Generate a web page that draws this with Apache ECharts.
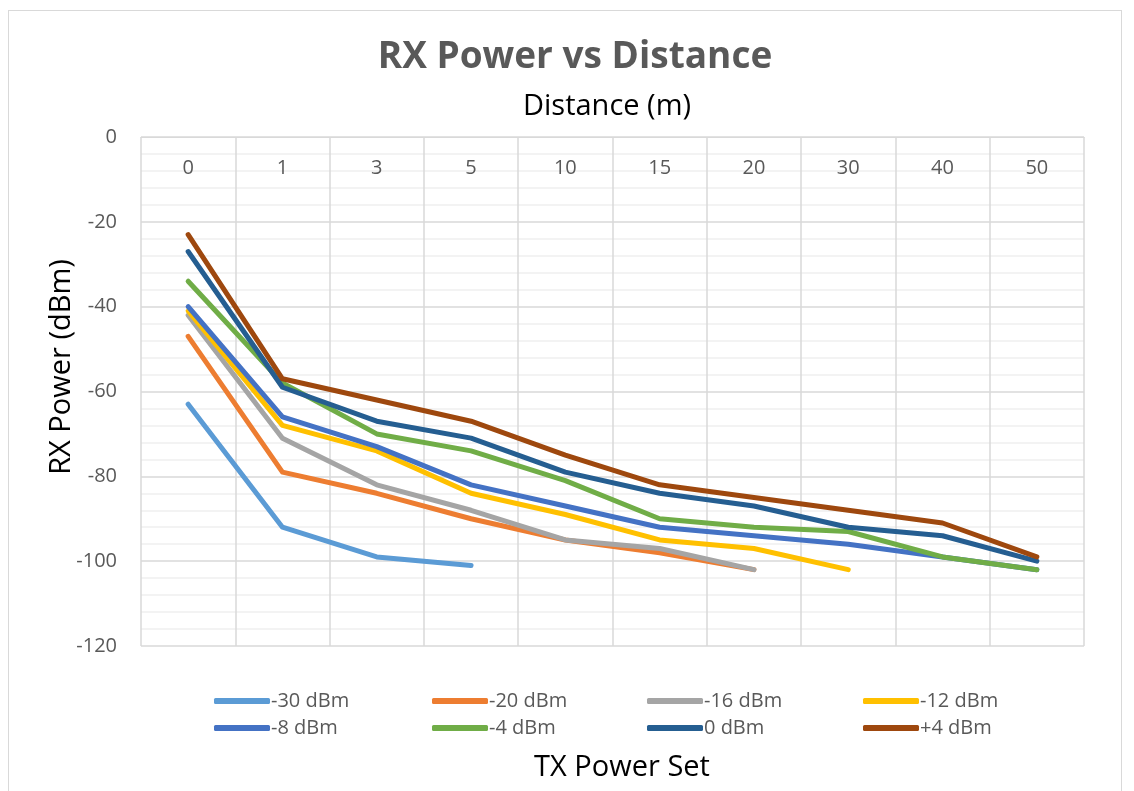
<!DOCTYPE html>
<html>
<head>
<meta charset="utf-8">
<script src="https://cdn.jsdelivr.net/npm/echarts@6/dist/echarts.min.js"></script>
<style>
html,body{margin:0;padding:0;background:#fff;}
#frame{position:absolute;left:8px;top:10px;width:1114px;height:800px;border:1px solid #d9d9d9;box-sizing:border-box;}
#chart{position:absolute;left:0;top:0;width:1134px;height:791px;}
</style>
</head>
<body>
<div id="frame"></div>
<div id="chart"></div>
<script>
const categories = ['0','1','3','5','10','15','20','30','40','50'];
const seriesNames = ['-30 dBm','-20 dBm','-16 dBm','-12 dBm','-8 dBm','-4 dBm','0 dBm','+4 dBm'];
const s_m30 = [-63,-92,-99,-101,null,null,null,null,null,null];
const s_m20 = [-47,-79,-84,-90,-95,-98,-102,null,null,null];
const s_m16 = [-42,-71,-82,-88,-95,-97,-102,null,null,null];
const s_m12 = [-41,-68,-74,-84,-89,-95,-97,-102,null,null];
const s_m8  = [-40,-66,-73,-82,-87,-92,-94,-96,-99,-102];
const s_m4  = [-34,-58,-70,-74,-81,-90,-92,-93,-99,-102];
const s_0   = [-27,-59,-67,-71,-79,-84,-87,-92,-94,-100];
const s_p4  = [-23,-57,-62,-67,-75,-82,-85,-88,-91,-99];
const yTicks = [0,-20,-40,-60,-80,-100,-120];

const values = [s_m30,s_m20,s_m16,s_m12,s_m8,s_m4,s_0,s_p4];
const colors = ['#5B9BD5','#ED7D31','#A5A5A5','#FFC000','#4472C4','#70AD47','#255E91','#9E480E'];

const chart = echarts.init(document.getElementById('chart'));
const legendPos = [
  [209,686],[427,686],[642,686],[858,686],
  [209,713],[427,713],[642,713],[858,713]
];
const legends = seriesNames.map((n,i)=>({
  data:[n], left:legendPos[i][0], top:legendPos[i][1],
  itemWidth:56, itemHeight:6, itemGap:0, icon:'roundRect',
  textStyle:{fontFamily:'Open Sans', fontSize:20, color:'#595959', padding:[0,0,0,-4]},
  selectedMode:false
}));
chart.setOption({
  animation:false,
  color:colors,
  grid:{left:141, top:137, right:50, bottom:145},
  legend:legends,
  graphic:[
    {type:'text', x:575, y:57, style:{text:'RX Power vs Distance', font:'bold 37px "Open Sans"', fill:'#595959', align:'center', verticalAlign:'middle'}},
    {type:'text', x:607, y:107, style:{text:'Distance (m)', font:'29px "Open Sans"', fill:'#000', align:'center', verticalAlign:'middle'}},
    {type:'text', x:622, y:768, style:{text:'TX Power Set', font:'29px "Open Sans"', fill:'#000', align:'center', verticalAlign:'middle'}},
    {type:'text', x:62, y:367, rotation:Math.PI/2, style:{text:'RX Power (dBm)', font:'29px "Open Sans"', fill:'#000', align:'center', verticalAlign:'middle'}}
  ],
  xAxis:{
    type:'category', data:categories, position:'top', boundaryGap:true,
    axisLine:{show:true, lineStyle:{color:'#d9d9d9', width:1}},
    axisTick:{show:false},
    axisLabel:{inside:true, margin:21, fontFamily:'Open Sans', fontSize:20, color:'#595959'},
    splitLine:{show:true, lineStyle:{color:'#d9d9d9', width:1.5}}
  },
  yAxis:{
    type:'value', min:-120, max:0, interval:20,
    axisLine:{show:false}, axisTick:{show:false},
    axisLabel:{margin:24, fontFamily:'Open Sans', fontSize:20, color:'#595959',
      formatter:v=>yTicks.includes(v)?String(v):''},
    splitLine:{show:true, lineStyle:{color:'#d9d9d9', width:1.5}},
    minorTick:{show:false, splitNumber:5},
    minorSplitLine:{show:true, lineStyle:{color:'#f0f0f0', width:1.5}}
  },
  series:seriesNames.map((n,i)=>({
    name:n, type:'line', data:values[i], showSymbol:false, symbol:'none',
    lineStyle:{width:5, color:colors[i], cap:'round', join:'round'},
    itemStyle:{color:colors[i]}
  }))
});
</script>
</body>
</html>
